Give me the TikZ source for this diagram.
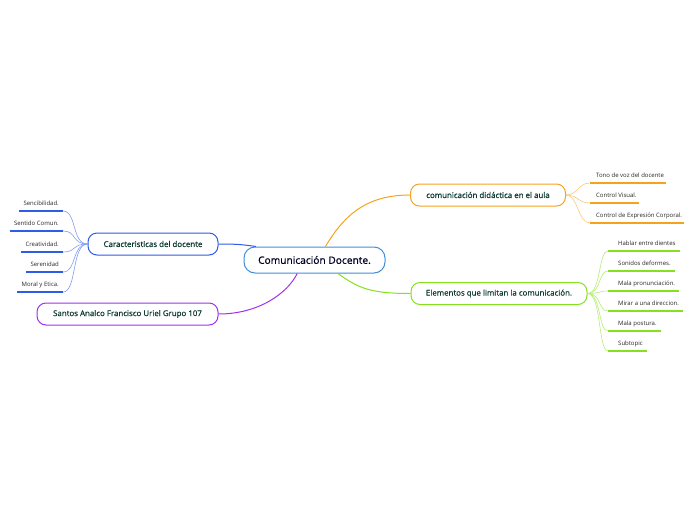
\documentclass[tikz,border=0pt]{standalone}
\usepackage{fontspec}
\setmainfont{Open Sans}
\newfontfamily\medfont[FakeBold=0.7]{Open Sans}
\definecolor{cblue}{HTML}{3F8FD8}
\definecolor{lblue}{HTML}{2E5BEA}
\definecolor{corange}{HTML}{F5A31E}
\definecolor{cgreen}{HTML}{86E01E}
\definecolor{cpurple}{HTML}{A030F0}
\definecolor{ctext}{HTML}{0E3B33}
\begin{document}
\begin{tikzpicture}[x=1pt,y=-1pt,
  topicbox/.style={draw, rounded corners=9pt, line width=1pt, fill=white, text=ctext,
    font=\medfont\fontsize{7.9}{9}\selectfont, inner sep=0pt, minimum height=22pt},
  centralbox/.style={topicbox, rounded corners=11pt, draw=cblue, text=black!85!blue,
    font=\medfont\fontsize{10.2}{12}\selectfont, minimum width=141pt, minimum height=26pt},
  leafL/.style={anchor=south east, inner xsep=4pt, inner ysep=0pt, text height=4.5pt,
    text depth=5.5pt, font=\fontsize{6}{7}\selectfont, text=black!85},
  leafR/.style={leafL, anchor=south west, inner xsep=0pt},
  ul/.style={line width=1.3pt},
  thin/.style={line width=0.6pt},
  branch/.style={line width=1pt}]
\useasboundingbox (0,0) rectangle (696,520);
% main branches (drawn first, under boxes)
\path (314.5,260) coordinate (cc);
% central
\node[centralbox] (c) at (cc) {Comunicación Docente.};
% topics
\node[topicbox, draw=lblue, minimum width=130pt] (lb) at (153,244) {Caracteristicas del docente};
\node[topicbox, draw=cpurple, minimum width=181pt] (pb) at (127.5,314) {Santos Analco Francisco Uriel Grupo 107};
\node[topicbox, draw=corange, minimum width=155pt] (ob) at (488,195) {comunicación didáctica en el aula};
\node[topicbox, draw=cgreen, minimum width=176pt] (gb) at (499,293.5) {Elementos que limitan la comunicación.};
\draw[branch, lblue] (lb.east) .. controls +(18,0) and +(-14,-2) .. (c.167);
\draw[branch, cpurple] (c.218) .. controls +(-10,20) and +(40,0) .. (pb.east);
\draw[branch, corange] (c.51) .. controls +(18,-30) and +(-45,0) .. (ob.west);
\draw[branch, cgreen] (c.330) .. controls +(20,14) and +(-42,0) .. (gb.west);
% left leaves
\node[leafL] (l1) at (63,211) {Sencibilidad.};
\node[leafL] (l2) at (63,231) {Sentido Comun.};
\node[leafL] (l3) at (63,252) {Creatividad.};
\node[leafL] (l4) at (63,272) {Serenidad};
\node[leafL] (l5) at (63,292) {Moral y Etica.};
\foreach \n in {l1,l2,l3,l4,l5}{
  \draw[ul, lblue] (\n.south west) -- (\n.south east);
  \draw[thin, lblue!60] (lb.west) .. controls +(-16,0) and +(14,0) .. (\n.south east);
}
% orange leaves
\node[leafR] (o1) at (596,183) {Tono de voz del docente};
\node[leafR] (o2) at (596,203) {Control Visual.};
\node[leafR] (o3) at (596,223) {Control de Expresión Corporal.};
\foreach \n in {o1,o2,o3}{
  \draw[ul, corange] ([xshift=-6pt]\n.south west) -- ([xshift=2pt]\n.south east);
  \draw[thin, corange!60] (ob.east) .. controls +(12,0) and +(-12,0) .. ([xshift=-6pt]\n.south west);
}
% green leaves
\node[leafR] (g1) at (618,251) {Hablar entre dientes};
\node[leafR] (g2) at (618,271) {Sonidos deformes.};
\node[leafR] (g3) at (618,291) {Mala pronunciación.};
\node[leafR] (g4) at (618,311) {Mirar a una direccion.};
\node[leafR] (g5) at (618,331) {Mala postura.};
\node[leafR] (g6) at (618,351) {Subtopic};
\foreach \n in {g1,g2,g3,g4,g5,g6}{
  \draw[ul, cgreen] ([xshift=-10pt]\n.south west) -- ([xshift=4pt]\n.south east);
  \draw[thin, cgreen!60] (gb.east) .. controls +(14,0) and +(-10,0) .. ([xshift=-10pt]\n.south west);
}
\end{tikzpicture}
\end{document}
